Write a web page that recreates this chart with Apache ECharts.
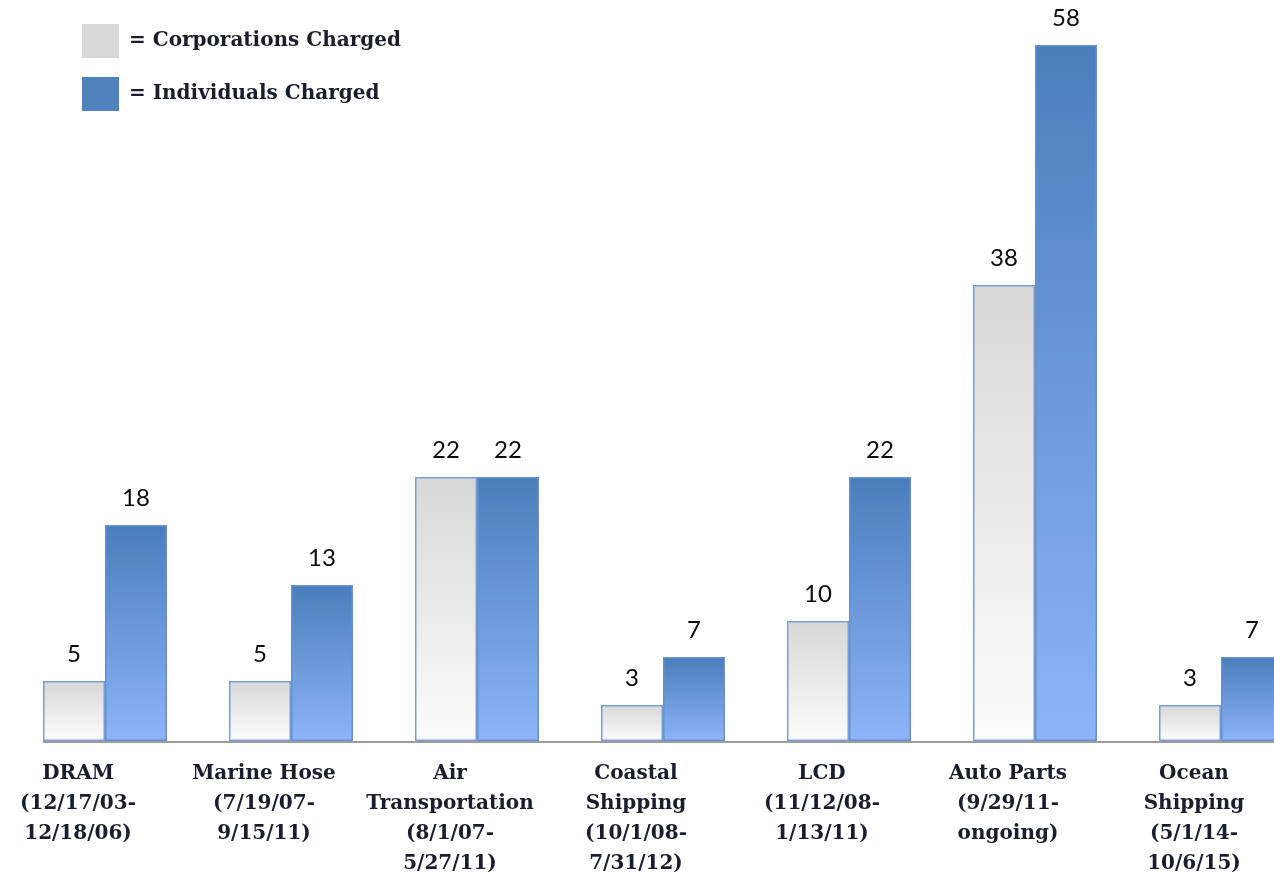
<!DOCTYPE html>
<html>
<head>
<meta charset="utf-8">
<script src="https://cdn.jsdelivr.net/npm/echarts@6/dist/echarts.min.js"></script>
<style>
  html, body { margin: 0; padding: 0; background: #ffffff; }
  #chart { width: 1274px; height: 874px; }
</style>
</head>
<body>
<div id="chart"></div>
<script>
// Cartel investigations: corporations vs. individuals charged
const categories = [
  'DRAM\n(12/17/03-\n12/18/06)',
  'Marine Hose\n(7/19/07-\n9/15/11)',
  'Air\nTransportation\n(8/1/07-\n5/27/11)',
  'Coastal\nShipping\n(10/1/08-\n7/31/12)',
  'LCD\n(11/12/08-\n1/13/11)',
  'Auto Parts\n(9/29/11-\nongoing)',
  'Ocean\nShipping\n(5/1/14-\n10/6/15)'
];
const corporationsCharged = [5, 5, 22, 3, 10, 38, 3];
const individualsCharged = [18, 13, 22, 7, 22, 58, 7];
const seriesNames = ['Corporations Charged', 'Individuals Charged'];

const BAR_W = 62;
const chart = echarts.init(document.getElementById('chart'));

const grayFill = new echarts.graphic.LinearGradient(0, 0, 0, 1, [
  { offset: 0, color: '#d8d8d8' },
  { offset: 1, color: '#fcfcfc' }
]);
const blueFill = new echarts.graphic.LinearGradient(0, 0, 0, 1, [
  { offset: 0, color: '#4a7ebb' },
  { offset: 1, color: '#8db4f8' }
]);

const valueLabel = {
  show: true,
  position: 'top',
  distance: 15,
  fontFamily: 'Lato',
  fontSize: 24,
  fontWeight: 'normal',
  color: '#0a0a0a'
};

chart.setOption({
  animation: false,
  backgroundColor: '#ffffff',
  legend: {
    orient: 'vertical',
    left: 77,
    top: 19,
    itemWidth: 37,
    itemHeight: 34,
    itemGap: 19,
    icon: 'rect',
    formatter: '= {name}',
    textStyle: {
      fontFamily: 'DejaVu Serif',
      fontWeight: 'bold',
      fontSize: 20,
      color: '#1a1d2b',
      padding: [0, 0, 0, 5]
    },
    data: [
      { name: seriesNames[0], itemStyle: { color: '#d9d9d9', borderWidth: 0 } },
      { name: seriesNames[1], itemStyle: { color: '#4f81bd', borderWidth: 0 } }
    ]
  },
  grid: { left: 12, top: 21, width: 7 * 186, height: 720, outerBoundsMode: 'none', containLabel: false },
  xAxis: {
    type: 'category',
    data: categories,
    axisLine: { show: false },
    axisTick: { show: false },
    axisLabel: {
      interval: 0,
      margin: 18,
      fontFamily: 'DejaVu Serif',
      fontWeight: 'bold',
      fontSize: 20,
      lineHeight: 30,
      color: '#1a1d2b',
      align: 'center',
      padding: [0, 54, 0, 0]
    }
  },
  yAxis: {
    type: 'value',
    min: 0,
    max: 60,
    show: false,
    splitLine: { show: false }
  },
  series: [
    {
      name: seriesNames[0],
      type: 'bar',
      data: corporationsCharged,
      barWidth: BAR_W,
      barGap: '0%',
      itemStyle: { color: grayFill, borderColor: '#7a9ed6', borderWidth: 1.5 },
      label: valueLabel
    },
    {
      name: seriesNames[1],
      type: 'bar',
      data: individualsCharged,
      barWidth: BAR_W,
      barGap: '0%',
      itemStyle: { color: blueFill, borderColor: '#6790cf', borderWidth: 1.5 },
      label: valueLabel
    }
  ]
});

// baseline drawn from the left edge of the first bar to the right edge
const firstCenter = chart.convertToPixel({ xAxisIndex: 0 }, 0);
const baseY = chart.convertToPixel({ yAxisIndex: 0 }, 0);
chart.setOption({
  graphic: [{
    type: 'line',
    z: 1,
    shape: { x1: firstCenter - BAR_W, y1: baseY + 1, x2: chart.getWidth(), y2: baseY + 1 },
    style: { stroke: '#9c9c9c', lineWidth: 2 }
  }]
});
</script>
</body>
</html>
